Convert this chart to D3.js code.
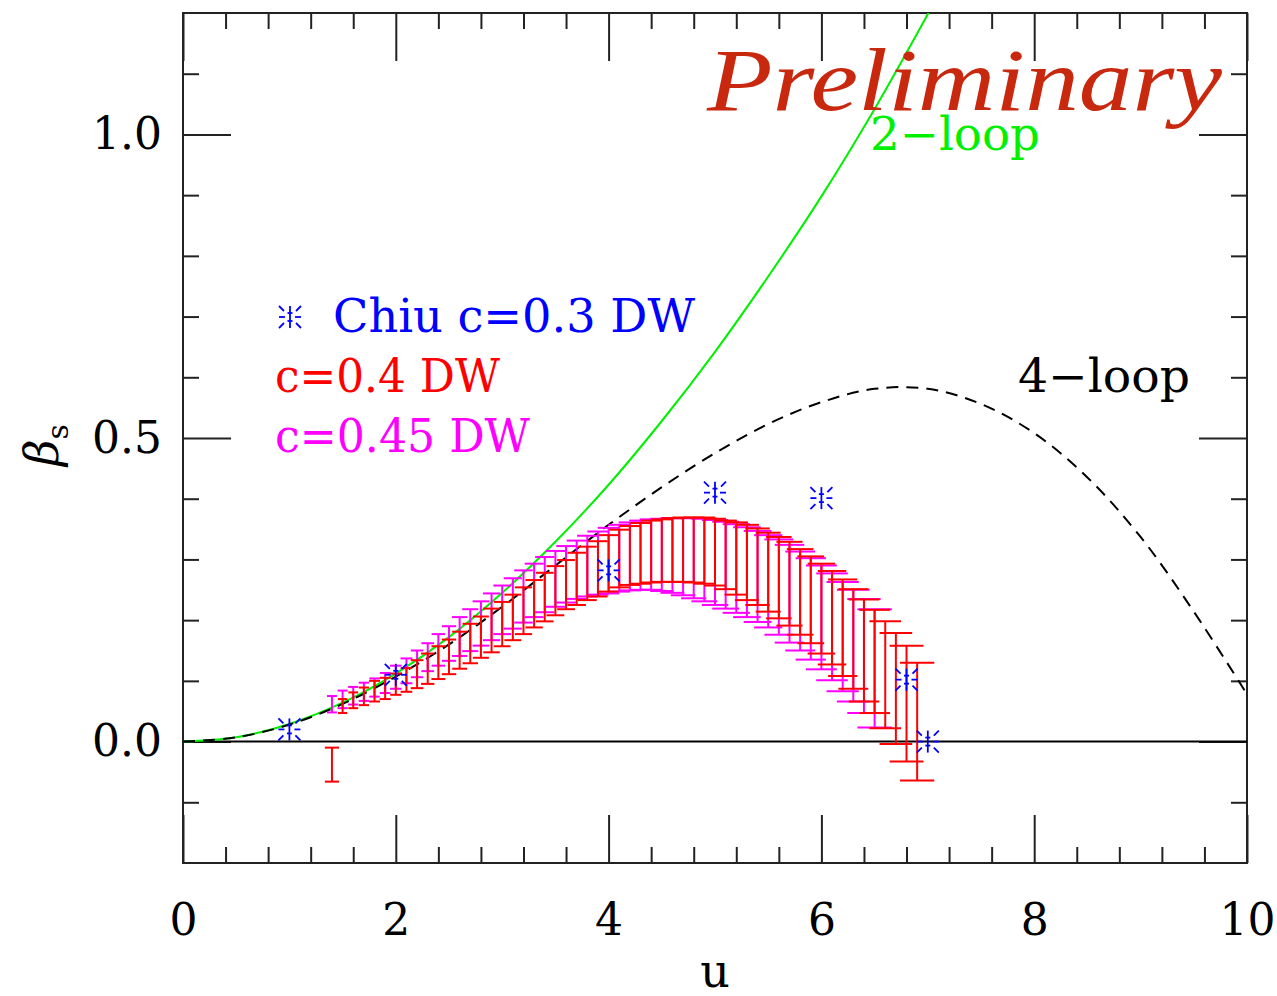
<!DOCTYPE html>
<html>
<head>
<meta charset="utf-8">
<script src="https://cdn.jsdelivr.net/npm/d3@7"></script>
<style>
  body { margin: 0; background: #fff; }
  svg { display: block; }
</style>
</head>
<body>
<div id="chart"></div>
<script>
// 2-loop and 4-loop curves
var twoLoopU = [0, 0.5, 1, 1.5, 2, 2.5, 3, 3.5, 4, 4.5, 5, 5.5, 6, 6.5, 7, 7.1];
var twoLoopB = [0, 0.007, 0.029, 0.064, 0.112, 0.172, 0.245, 0.329, 0.423, 0.528, 0.642, 0.766, 0.898, 1.042, 1.198, 1.23];
var fourLoopU = [0, 0.5, 1, 1.5, 2, 2.5, 3, 3.5, 4, 4.5, 5, 5.5, 6, 6.5, 7, 7.5, 8, 8.5, 9, 9.5, 10];
var fourLoopB = [0, 0.007, 0.028, 0.062, 0.107, 0.160, 0.222, 0.290, 0.357, 0.419, 0.475, 0.523, 0.559, 0.581, 0.581, 0.556, 0.508, 0.435, 0.337, 0.214, 0.078];

// Chiu c=0.3 DW
var chiuU = [1, 2, 4, 5, 6, 6.8, 7];
var chiuB = [0.020, 0.110, 0.282, 0.410, 0.401, 0.102, 0.0];

// c=0.4 DW (red)
var redU = [1.4, 1.5, 1.6, 1.7, 1.8, 1.9, 2.0, 2.1, 2.2, 2.3, 2.4, 2.5, 2.6, 2.7, 2.8, 2.9,
            3.0, 3.1, 3.2, 3.3, 3.4, 3.5, 3.6, 3.7, 3.8, 3.9, 4.0, 4.1, 4.2, 4.3, 4.4, 4.5,
            4.6, 4.7, 4.8, 4.9, 5.0, 5.1, 5.2, 5.3, 5.4, 5.5, 5.6, 5.7, 5.8, 5.9, 6.0, 6.1,
            6.2, 6.3, 6.4, 6.5, 6.6, 6.7, 6.8, 6.9];
var redHi = [-0.010, 0.070, 0.081, 0.089, 0.100, 0.105, 0.112, 0.121, 0.134, 0.145, 0.157, 0.168, 0.181, 0.194, 0.206, 0.219,
             0.230, 0.242, 0.254, 0.266, 0.278, 0.289, 0.299, 0.311, 0.321, 0.330, 0.340, 0.349, 0.355, 0.360, 0.364, 0.366,
             0.368, 0.369, 0.369, 0.369, 0.367, 0.364, 0.361, 0.357, 0.351, 0.344, 0.337, 0.329, 0.317, 0.305, 0.293, 0.281,
             0.267, 0.251, 0.234, 0.217, 0.198, 0.179, 0.158, 0.130];
var redLo = [-0.066, 0.047, 0.055, 0.060, 0.066, 0.070, 0.077, 0.082, 0.088, 0.095, 0.103, 0.111, 0.120, 0.129, 0.138, 0.147,
             0.157, 0.167, 0.177, 0.188, 0.198, 0.208, 0.218, 0.225, 0.233, 0.239, 0.247, 0.254, 0.258, 0.260, 0.262, 0.263,
             0.263, 0.263, 0.262, 0.260, 0.257, 0.251, 0.242, 0.233, 0.225, 0.214, 0.203, 0.191, 0.176, 0.162, 0.145, 0.127,
             0.108, 0.087, 0.066, 0.047, 0.022, -0.004, -0.033, -0.064];

// c=0.45 DW (magenta)
var magU = [1.4, 1.5, 1.6, 1.7, 1.8, 1.9, 2.0, 2.1, 2.2, 2.3, 2.4, 2.5, 2.6, 2.7, 2.8, 2.9,
            3.0, 3.1, 3.2, 3.3, 3.4, 3.5, 3.6, 3.7, 3.8, 3.9, 4.0, 4.1, 4.2, 4.3, 4.4, 4.5,
            4.6, 4.7, 4.8, 4.9, 5.0, 5.1, 5.2, 5.3, 5.4, 5.5, 5.6, 5.7, 5.8, 5.9, 6.0, 6.1,
            6.2, 6.3, 6.4, 6.5];
var magHi = [0.075, 0.084, 0.090, 0.097, 0.104, 0.113, 0.125, 0.137, 0.150, 0.162, 0.177, 0.190, 0.205, 0.218, 0.231, 0.244,
             0.257, 0.269, 0.282, 0.293, 0.304, 0.314, 0.322, 0.331, 0.339, 0.346, 0.352, 0.357, 0.361, 0.364, 0.366, 0.367,
             0.368, 0.368, 0.368, 0.367, 0.365, 0.362, 0.358, 0.353, 0.347, 0.340, 0.333, 0.324, 0.313, 0.302, 0.290, 0.277,
             0.263, 0.250, 0.235, 0.218];
var magLo = [0.048, 0.055, 0.061, 0.067, 0.074, 0.080, 0.087, 0.096, 0.106, 0.116, 0.125, 0.133, 0.141, 0.149, 0.158, 0.167,
             0.177, 0.186, 0.196, 0.205, 0.213, 0.222, 0.229, 0.235, 0.239, 0.242, 0.244, 0.247, 0.249, 0.250, 0.250, 0.248,
             0.245, 0.241, 0.236, 0.231, 0.225, 0.219, 0.212, 0.205, 0.197, 0.188, 0.176, 0.163, 0.150, 0.135, 0.119, 0.101,
             0.083, 0.066, 0.047, 0.023];

var xMajor = [0, 2, 4, 6, 8, 10];
var xMinor = [0.4, 0.8, 1.2, 1.6, 2.4, 2.8, 3.2, 3.6, 4.4, 4.8, 5.2, 5.6, 6.4, 6.8, 7.2, 7.6, 8.4, 8.8, 9.2, 9.6];
var yMajor = [0, 0.5, 1.0];
var yMinor = [-0.1, 0.1, 0.2, 0.3, 0.4, 0.6, 0.7, 0.8, 0.9, 1.1];

var margin = { top: 13, left: 183 },
    width = 1064,
    height = 850;

var serif = "'DejaVu Serif', 'Liberation Serif', serif";

var svg = d3.select("#chart").append("svg")
    .attr("width", 1277)
    .attr("height", 996);

var g = svg.append("g")
    .attr("transform", "translate(" + margin.left + "," + margin.top + ")");

var x = d3.scaleLinear().domain([0, 10]).range([0, width]);
var y = d3.scaleLinear().domain([-0.2, 1.2]).range([height, 0]);

g.append("clipPath").attr("id", "plotClip")
    .append("rect").attr("width", width).attr("height", height);

// ticks on all four sides
function tickAxis(axisFn, vals, len, labels) {
    return axisFn.tickValues(vals).tickSizeInner(-len).tickSizeOuter(0)
        .tickFormat(labels ? labels : "");
}
var axes = [
    { a: tickAxis(d3.axisBottom(x), xMajor, 48, d3.format("d")), t: "translate(0," + height + ")", pad: 41 },
    { a: tickAxis(d3.axisBottom(x), xMinor, 16), t: "translate(0," + height + ")" },
    { a: tickAxis(d3.axisTop(x), xMajor, 48), t: "" },
    { a: tickAxis(d3.axisTop(x), xMinor, 16), t: "" },
    { a: tickAxis(d3.axisLeft(y), yMajor, 48, d3.format(".1f")), t: "", pad: 21 },
    { a: tickAxis(d3.axisLeft(y), yMinor, 16), t: "" },
    { a: tickAxis(d3.axisRight(y), yMajor, 48), t: "translate(" + width + ",0)" },
    { a: tickAxis(d3.axisRight(y), yMinor, 16), t: "translate(" + width + ",0)" }
];
axes.forEach(function (ax) {
    if (ax.pad) ax.a.tickPadding(ax.pad);
    var ag = g.append("g").attr("transform", ax.t).call(ax.a);
    ag.select(".domain").remove();
    ag.selectAll(".tick line").attr("stroke", "#222").attr("stroke-width", 2);
    ag.selectAll(".tick text")
        .attr("fill", "#000")
        .style("font-family", serif)
        .style("font-size", "44px");
});

// frame
g.append("rect")
    .attr("width", width).attr("height", height)
    .attr("fill", "none").attr("stroke", "#222").attr("stroke-width", 2);

// zero line
g.append("line")
    .attr("x1", 0).attr("x2", width)
    .attr("y1", y(0)).attr("y2", y(0))
    .attr("stroke", "#000").attr("stroke-width", 2);

var plot = g.append("g").attr("clip-path", "url(#plotClip)");

var line = d3.line()
    .x(function (d) { return x(d[0]); })
    .y(function (d) { return y(d[1]); })
    .curve(d3.curveCatmullRom.alpha(0.5));

plot.append("path")
    .datum(d3.zip(twoLoopU, twoLoopB))
    .attr("d", line)
    .attr("fill", "none").attr("stroke", "#00f000").attr("stroke-width", 2);

plot.append("path")
    .datum(d3.zip(fourLoopU, fourLoopB))
    .attr("d", line)
    .attr("fill", "none").attr("stroke", "#000").attr("stroke-width", 2)
    .attr("stroke-dasharray", "12,8");

// error bars: caps get wider with the bar
function errorBars(us, los, his, color) {
    var data = d3.zip(us, los, his);
    var eb = plot.append("g").attr("stroke", color).attr("stroke-width", 2);
    data.forEach(function (d) {
        var cx = x(d[0]), y1 = y(d[1]), y2 = y(d[2]);
        var hw = 3 + 0.12 * Math.abs(y1 - y2);
        eb.append("line").attr("x1", cx).attr("x2", cx).attr("y1", y1).attr("y2", y2);
        eb.append("line").attr("x1", cx - hw).attr("x2", cx + hw).attr("y1", y1).attr("y2", y1);
        eb.append("line").attr("x1", cx - hw).attr("x2", cx + hw).attr("y1", y2).attr("y2", y2);
    });
}
errorBars(magU, magLo, magHi, "#ff00ff");
errorBars(redU, redLo, redHi, "#ff0000");

// open star marker: vertical bar, side dashes and corner spokes
function star(sel, cx, cy) {
    var s = sel.append("g").attr("transform", "translate(" + cx + "," + cy + ")")
        .attr("stroke", "#0000ff").attr("stroke-width", 1.8);
    s.append("line").attr("x1", 0).attr("x2", 0).attr("y1", -11).attr("y2", 11);
    s.append("line").attr("x1", -2.5).attr("x2", 2.5).attr("y1", -4).attr("y2", -4);
    s.append("line").attr("x1", -2.5).attr("x2", 2.5).attr("y1", 4).attr("y2", 4);
    [-1, 1].forEach(function (sx) {
        s.append("line").attr("x1", sx * 5).attr("x2", sx * 11).attr("y1", 0).attr("y2", 0);
        [-1, 1].forEach(function (sy) {
            s.append("line")
                .attr("x1", sx * 6).attr("y1", sy * 6)
                .attr("x2", sx * 11).attr("y2", sy * 11);
        });
    });
}
d3.zip(chiuU, chiuB).forEach(function (d) { star(plot, x(d[0]), y(d[1])); });

// legend
star(svg, 290, 317);
var legend = [
    { t: "Chiu c=0.3 DW", c: "#0000ff", x: 333, y: 332, w: 362 },
    { t: "c=0.4 DW", c: "#ff0000", x: 275, y: 392, w: 225 },
    { t: "c=0.45 DW", c: "#ff00ff", x: 275, y: 452, w: 255 }
];
svg.selectAll(".leg").data(legend).join("text")
    .attr("class", "leg")
    .attr("x", function (d) { return d.x; })
    .attr("y", function (d) { return d.y; })
    .attr("textLength", function (d) { return d.w; })
    .attr("lengthAdjust", "spacingAndGlyphs")
    .attr("fill", function (d) { return d.c; })
    .style("font-family", serif).style("font-size", "46px")
    .text(function (d) { return d.t; });

// curve labels
svg.append("text").attr("x", 870).attr("y", 150)
    .attr("textLength", 170).attr("lengthAdjust", "spacingAndGlyphs")
    .attr("fill", "#00f000").style("font-family", serif).style("font-size", "46px")
    .text("2\u2212loop");
svg.append("text").attr("x", 1018).attr("y", 392)
    .attr("textLength", 172).attr("lengthAdjust", "spacingAndGlyphs")
    .attr("fill", "#000").style("font-family", serif).style("font-size", "46px")
    .text("4\u2212loop");

// Preliminary stamp
svg.append("text").attr("x", 707).attr("y", 110)
    .attr("textLength", 515).attr("lengthAdjust", "spacingAndGlyphs")
    .attr("fill", "#c8290e")
    .style("font-family", "'Liberation Serif', serif").style("font-style", "italic")
    .style("font-size", "88px")
    .text("Preliminary");

// axis titles
svg.append("text").attr("x", 715).attr("y", 987)
    .attr("text-anchor", "middle")
    .style("font-family", serif).style("font-size", "46px")
    .text("u");
var yl = svg.append("text")
    .attr("transform", "translate(58,445) rotate(-90)")
    .attr("text-anchor", "middle")
    .style("font-family", serif).style("font-size", "46px");
yl.append("tspan").style("font-style", "italic").text("\u03b2");
yl.append("tspan").attr("dy", 10).style("font-size", "30px").text("s");
</script>
</body>
</html>
